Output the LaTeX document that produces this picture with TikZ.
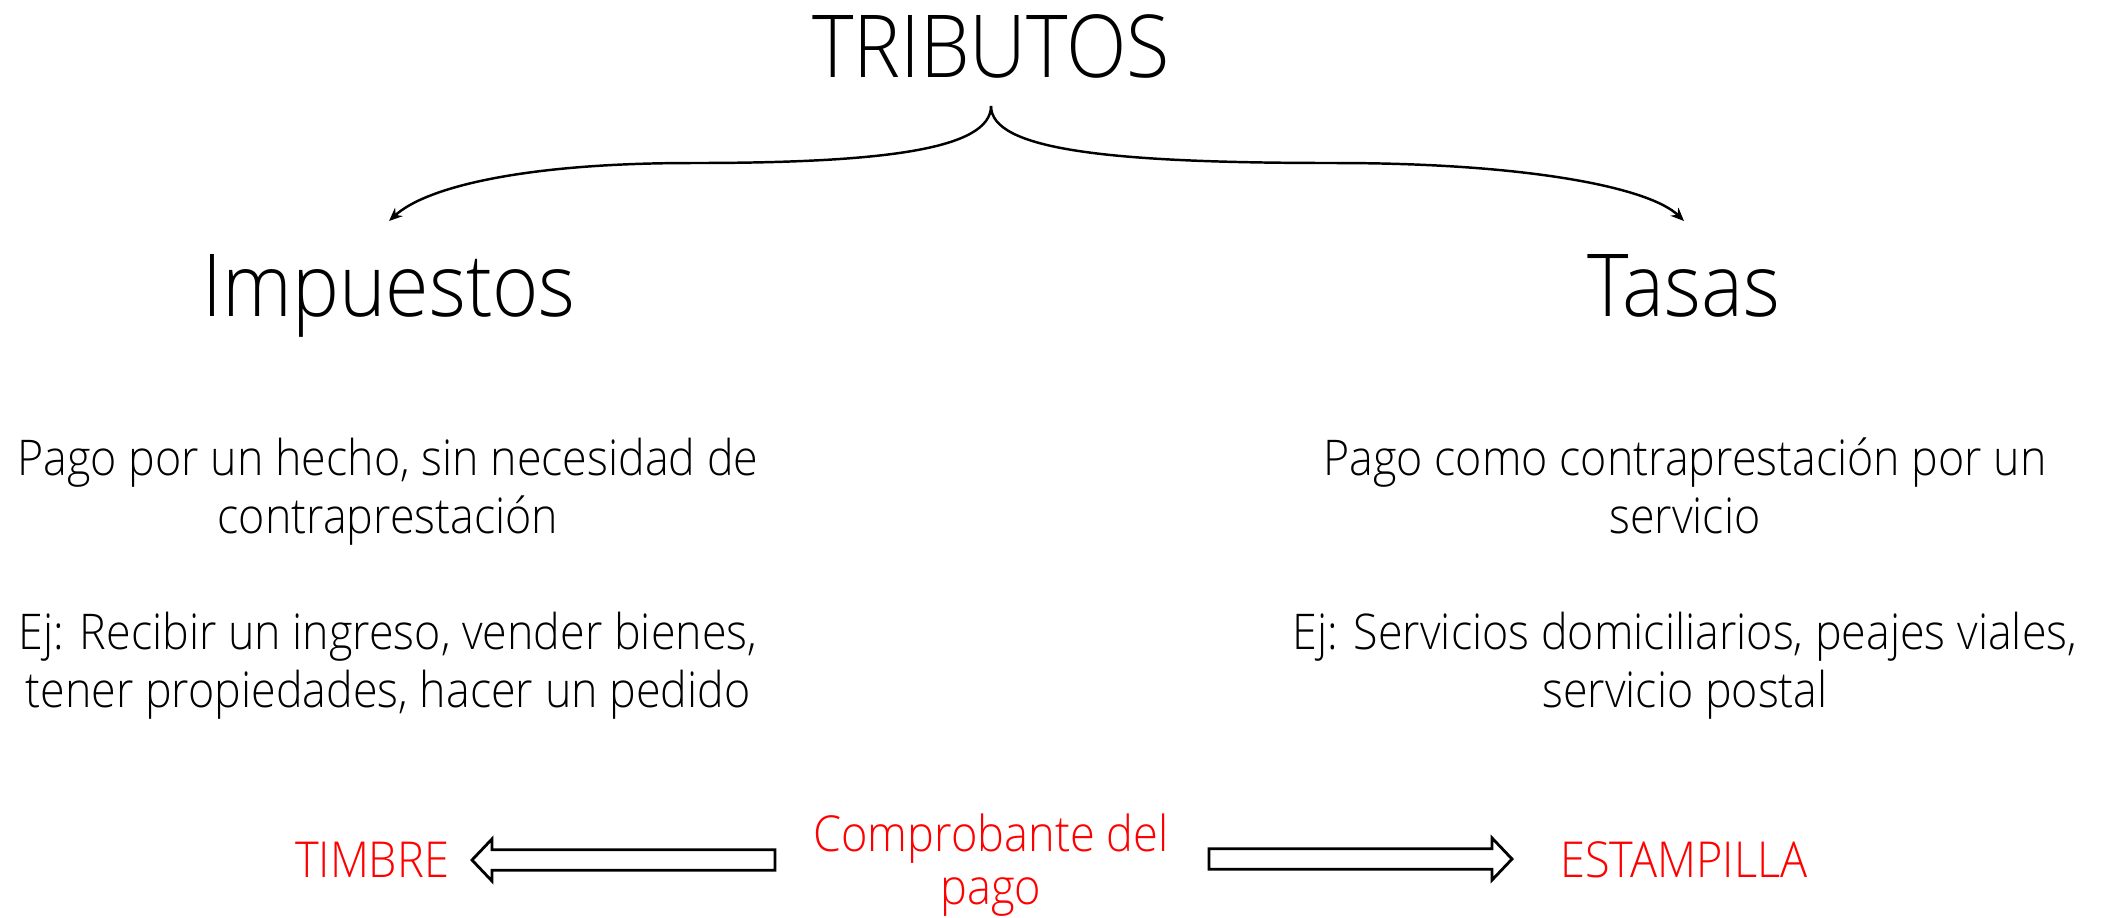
\documentclass[tikz,border=0pt]{standalone}
\usepackage{fontspec}
\IfFontExistsTF{Open Sans Light}{\setmainfont{Open Sans Light}[FakeStretch=0.91]}{\setmainfont{Open Sans}[FakeStretch=0.91]}
\usetikzlibrary{arrows.meta,calc}

\tikzset{
  heading/.style = {font=\fontsize{24.7pt}{30pt}\selectfont, anchor=base, inner sep=0pt},
  body/.style = {font=\fontsize{14pt}{16.4pt}\selectfont, align=center, anchor=base, inner sep=0pt},
  proof/.style = {font=\fontsize{14.1pt}{15pt}\selectfont, text=red, align=center, anchor=base, inner sep=0pt},
  branch/.style = {line width=0.7pt, -{Stealth[length=3.8pt,width=3.2pt]}},
  hollow/.style = {draw=black, line width=0.8pt, fill=white}
}

% block arrow with open outline, from tail to tip (horizontal)
\newcommand{\hollowarrow}[2]{%
  \draw[hollow] let \p1 = (#1), \p2 = (#2), \n1 = {ifthenelse(\x2<\x1,1,-1)} in
    (\x1,\y1+2.9pt) -- (\x2+\n1*5.7pt,\y1+2.9pt) -- (\x2+\n1*5.7pt,\y1+6pt)
    -- (\x2,\y2) -- (\x2+\n1*5.7pt,\y1-6pt) -- (\x2+\n1*5.7pt,\y1-2.9pt)
    -- (\x1,\y1-2.9pt) -- cycle;}

\begin{document}
\begin{tikzpicture}[x=0.01cm, y=-0.01cm]
  \useasboundingbox (0,0) rectangle (2101,917);

  % titles
  \node[heading] (trib) at (991,77) {TRIBUTOS};
  \node[heading] (imp) at (389,316) {Impuestos};
  \node[heading] (tas) at (1684,316) {Tasas};

  % descriptions (base = last line)
  \node[body] (impdef) at (388,533) {Pago por un hecho, sin necesidad de\\contraprestación};
  \node[body] (impej) at (388,707) {Ej: Recibir un ingreso, vender bienes,\\tener propiedades, hacer un pedido};
  \node[body] (tasdef) at (1685,533) {Pago como contraprestación por un\\servicio};
  \node[body] (tasej) at (1685,707) {Ej: Servicios domiciliarios, peajes viales,\\servicio postal};

  % brace
  \coordinate (top) at (991,106);
  \coordinate (lbend) at (692,163);
  \coordinate (lend) at (389,221);
  \coordinate (rbend) at (1335,163);
  \coordinate (rend) at (1684,221);
  \draw[branch] (top) .. controls (991,150) and (880,163) .. (lbend)
    .. controls (520,163) and (425,188) .. (lend);
  \draw[branch] (top) .. controls (991,150) and (1110,163) .. (rbend)
    .. controls (1530,163) and (1650,188) .. (rend);

  % comprobante
  \node[proof] (comp) at (991,904) {Comprobante del\\pago};
  \node[proof] (timbre) at (372,877) {TIMBRE};
  \node[proof] (estamp) at (1684,877) {ESTAMPILLA};
  \coordinate (timtail) at (775,860);
  \coordinate (timtip) at (472,860);
  \coordinate (esttail) at (1209,859);
  \coordinate (esttip) at (1512,859);
  \hollowarrow{timtail}{timtip}
  \hollowarrow{esttail}{esttip}
\end{tikzpicture}
\end{document}
